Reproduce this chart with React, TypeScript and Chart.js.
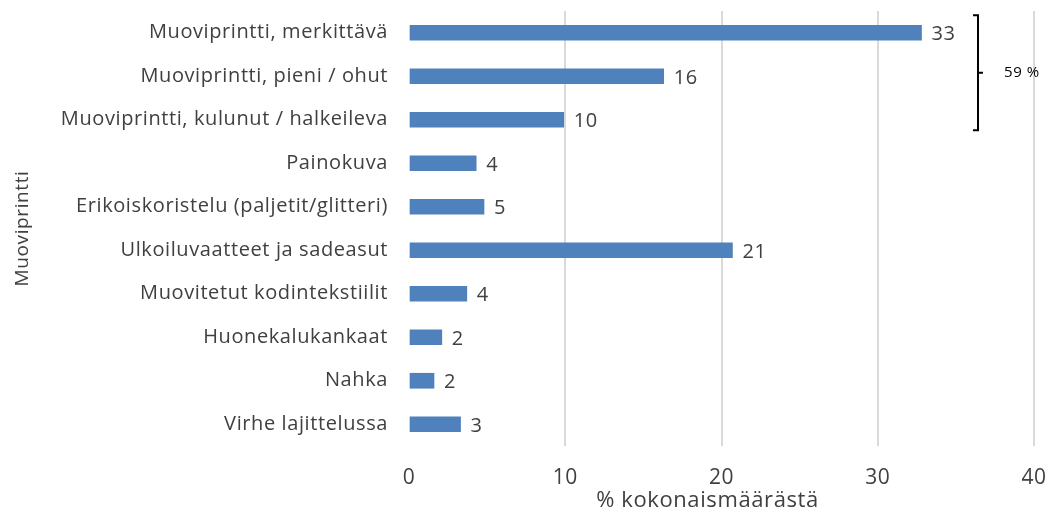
import React, { useEffect, useRef } from "react";
import { Chart, registerables } from "chart.js";

Chart.register(...registerables);

const categories = [
  "Muoviprintti, merkittävä",
  "Muoviprintti, pieni / ohut",
  "Muoviprintti, kulunut / halkeileva",
  "Painokuva",
  "Erikoiskoristelu (paljetit/glitteri)",
  "Ulkoiluvaatteet ja sadeasut",
  "Muovitetut kodintekstiilit",
  "Huonekalukankaat",
  "Nahka",
  "Virhe lajittelussa",
];
const values = [32.8, 16.3, 9.9, 4.3, 4.8, 20.7, 3.7, 2.1, 1.6, 3.3];
const valueLabels = ["33", "16", "10", "4", "5", "21", "4", "2", "2", "3"];
const xTicks = [0, 10, 20, 30, 40];
const bracketFirst = 0;
const bracketLast = 2;
const bracketLabel = "59 %";
const xTitle = "% kokonaismäärästä";
const yTitle = "Muoviprintti";

const FONT = "'Open Sans', sans-serif";
const TEXT = "#404040";
const SPACING = "0.6px";

const zeroPad = (scale: any) => {
  scale.paddingTop = 0;
  scale.paddingBottom = 0;
  scale.paddingLeft = 0;
  scale.paddingRight = 0;
};

const overlayPlugin = {
  id: "overlay",
  beforeDraw(chart: any) {
    chart.ctx.letterSpacing = SPACING;
  },
  afterDatasetsDraw(chart: any) {
    const { ctx, chartArea } = chart;
    const meta = chart.getDatasetMeta(0);
    const yScale = chart.scales.y;
    ctx.save();
    ctx.letterSpacing = SPACING;
    ctx.fillStyle = TEXT;
    ctx.font = `20px ${FONT}`;
    ctx.textAlign = "left";
    ctx.textBaseline = "middle";
    meta.data.forEach((bar: any, i: number) => {
      ctx.fillText(valueLabels[i], bar.x + 10, bar.y + 2);
    });
    // x axis title
    ctx.font = `22px ${FONT}`;
    ctx.textAlign = "center";
    ctx.fillText(xTitle, (chartArea.left + chartArea.right) / 2 - 14, chart.height - 14);
    // bracket
    const x = chartArea.right - 56;
    const top = yScale.getPixelForValue(bracketFirst) - 17.5;
    const bottom = yScale.getPixelForValue(bracketLast) + 10.5;
    const mid = (top + bottom) / 2;
    ctx.strokeStyle = "#000";
    ctx.lineWidth = 2;
    ctx.beginPath();
    ctx.moveTo(x - 5, top);
    ctx.lineTo(x, top);
    ctx.lineTo(x, bottom);
    ctx.lineTo(x - 5, bottom);
    ctx.moveTo(x, mid);
    ctx.lineTo(x + 5, mid);
    ctx.stroke();
    ctx.fillStyle = "#000";
    ctx.textAlign = "left";
    ctx.font = `15px ${FONT}`;
    ctx.fillText(bracketLabel, x + 26, mid);
    ctx.restore();
  },
};

export default function App() {
  const ref = useRef<HTMLCanvasElement>(null);
  useEffect(() => {
    if (!ref.current) return;
    const chart = new Chart(ref.current, {
      type: "bar",
      data: {
        labels: categories,
        datasets: [
          {
            data: values,
            backgroundColor: "#4f81bd",
            borderWidth: 0,
            barThickness: 15,
          },
        ],
      },
      options: {
        indexAxis: "y",
        animation: false,
        responsive: true,
        maintainAspectRatio: false,
        layout: { padding: { top: 11, right: 14, left: 0, bottom: 0 } },
        plugins: {
          legend: { display: false },
          tooltip: { enabled: false },
        },
        scales: {
          x: {
            type: "linear",
            min: 0,
            max: 40,
            afterBuildTicks: (scale: any) => {
              scale.ticks = xTicks.map((v) => ({ value: v }));
            },
            afterFit: (scale: any) => {
              scale.height = 69;
              zeroPad(scale);
            },
            grid: {
              color: (c: any) => (c.tick && c.tick.value === 0 ? "rgba(0,0,0,0)" : "#d9d9d9"),
              lineWidth: 2,
              drawTicks: false,
            },
            border: { display: false },
            ticks: {
              padding: 19,
              color: TEXT,
              font: { family: FONT, size: 21 },
            },
            title: { display: false },
          },
          y: {
            type: "category",
            offset: true,
            afterFit: (scale: any) => {
              scale.width = 409;
              zeroPad(scale);
            },
            grid: { display: false, drawTicks: false },
            border: { display: false },
            ticks: {
              padding: 21,
              color: TEXT,
              font: { family: FONT, size: 20 },
              autoSkip: false,
            },
            title: {
              display: true,
              text: yTitle,
              color: TEXT,
              font: { family: FONT, size: 19 },
              padding: { top: 11, bottom: 0 },
            },
          },
        },
      },
      plugins: [overlayPlugin],
    });
    return () => chart.destroy();
  }, []);
  return (
    <div style={{ position: "fixed", left: 0, top: 0, width: 1048, height: 515, background: "#fff" }}>
      <canvas ref={ref} />
    </div>
  );
}
